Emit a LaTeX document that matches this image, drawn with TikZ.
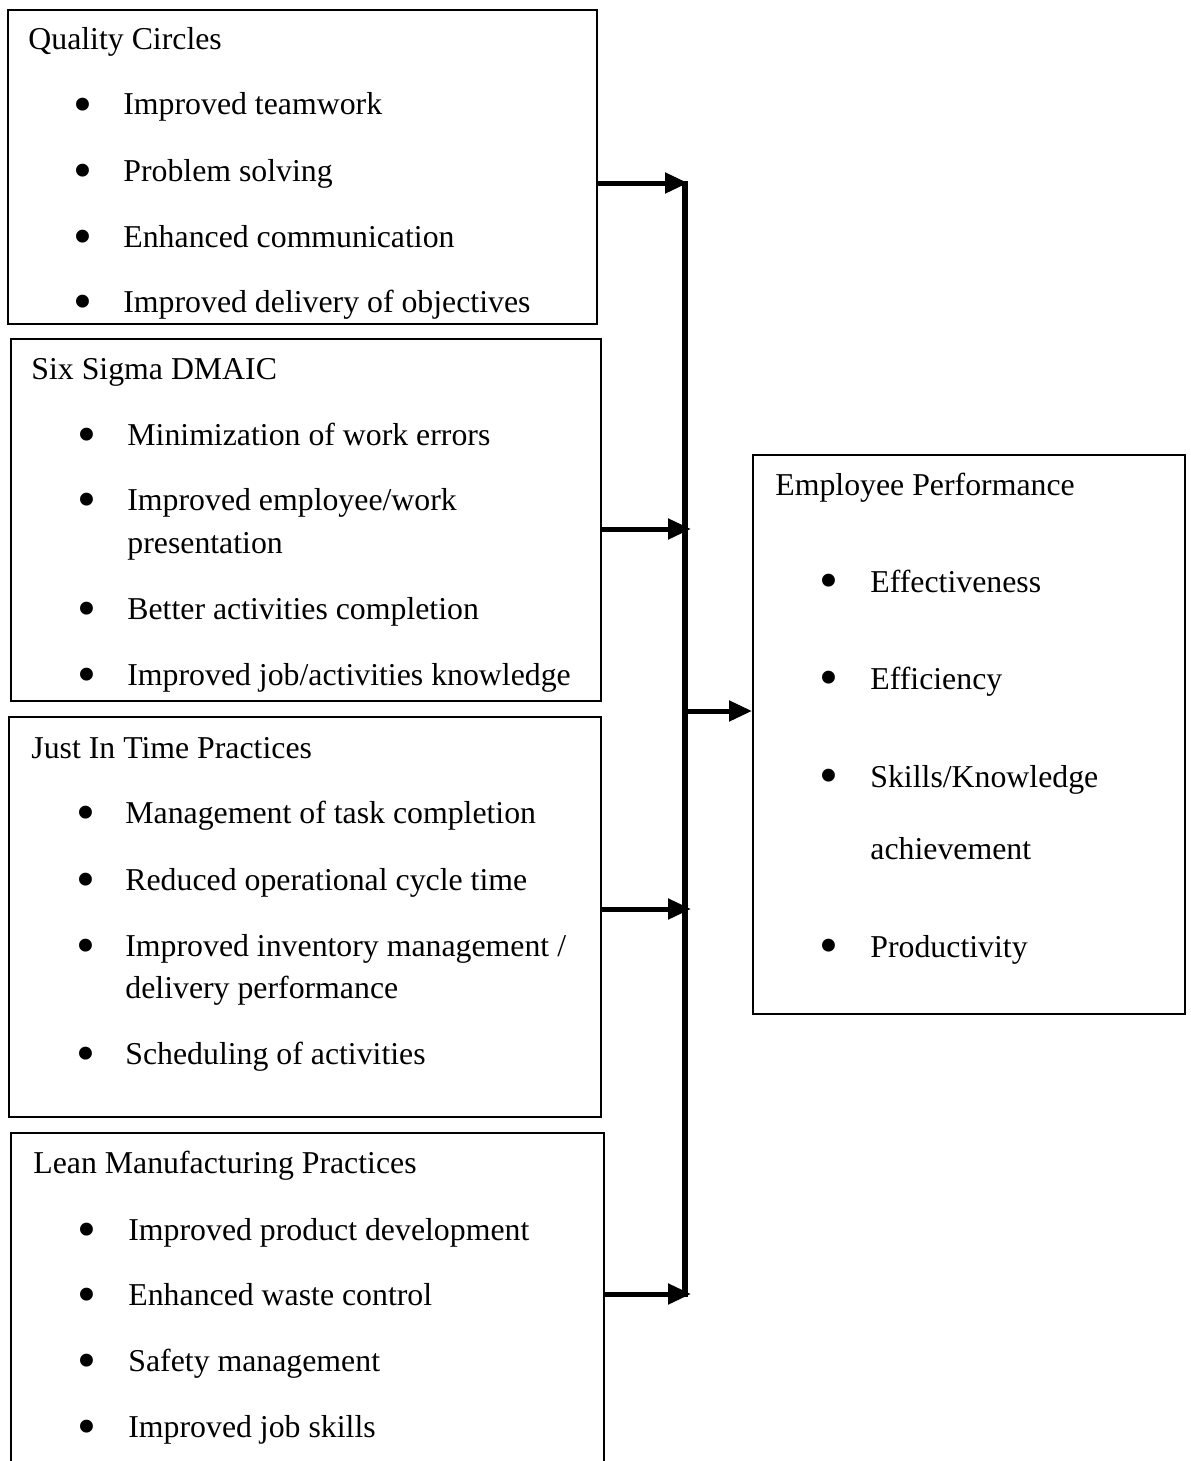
\documentclass[tikz,border=0pt]{standalone}
\usepackage{fontspec}
\setmainfont{Liberation Serif}
\usetikzlibrary{arrows.meta,fit}

\tikzset{
  box/.style={draw,line width=1pt,inner sep=0pt},
  head/.style={anchor=base west,inner sep=0pt},
  item/.style={anchor=base west,inner sep=0pt},
  dot/.style={anchor=base,inner sep=0pt,font=\fontsize{27}{27}\selectfont},
  arr/.style={line width=2.5pt,-{Triangle[length=11.5pt,width=10pt]}}
}

\begin{document}
\begin{tikzpicture}[x=0.5pt,y=-0.5pt,font=\fontsize{15.9}{19}\selectfont]
	\useasboundingbox (0,0) rectangle (1190,1461);
	\clip (0,0) rectangle (1190,1461);

	%boxes
	\node[box,fit={(8,10) (597,324)}] (qc) {}; %quality circles
	\node[box,fit={(11,339) (601,701)}] (ss) {}; %six sigma
	\node[box,fit={(9,717) (601,1117)}] (jit) {}; %just in time
	\node[box,fit={(11,1133) (604,1480)}] (lm) {}; %lean manufacturing
	\node[box,fit={(753,455) (1185,1014)}] (ep) {}; %employee performance

	%headings
	\node[head] (qct) at (28,50) {Quality Circles};
	\node[head] (sst) at (31,379) {Six Sigma DMAIC};
	\node[head] (jitt) at (31,758) {Just In Time Practices};
	\node[head] (lmt) at (33,1173) {Lean Manufacturing Practices};
	\node[head] (ept) at (775,495) {Employee Performance};

	%items
	\foreach \y/\t [count=\i] in {115/{Improved teamwork},181/{Problem solving},247/{Enhanced communication},312/{Improved delivery of objectives}}
	  {\node[dot] (qcb\i) at (82.5,\y+7.5) {\textbullet}; \node[item] (qc\i) at (123,\y) {\t};}
	\foreach \y/\t [count=\i] in {445/{Minimization of work errors},510/{Improved employee/work},619/{Better activities completion},685/{Improved job/activities knowledge}}
	  {\node[dot] (ssb\i) at (86.5,\y+7.5) {\textbullet}; \node[item] (ss\i) at (127,\y) {\t};}
	\node[item] (ss2b) at (127,553) {presentation}; %second line
	\foreach \y/\t [count=\i] in {823/{Management of task completion},890/{Reduced operational cycle time},956/{Improved inventory management /},1064/{Scheduling of activities}}
	  {\node[dot] (jitb\i) at (85.5,\y+7.5) {\textbullet}; \node[item] (jit\i) at (125,\y) {\t};}
	\node[item] (jit3b) at (125,998) {delivery performance}; %second line
	\foreach \y/\t [count=\i] in {1240/{Improved product development},1305/{Enhanced waste control},1371/{Safety management},1437/{Improved job skills}}
	  {\node[dot] (lmb\i) at (86.5,\y+7.5) {\textbullet}; \node[item] (lm\i) at (128,\y) {\t};}
	\foreach \y/\t [count=\i] in {592/{Effectiveness},689/{Efficiency},787/{Skills/Knowledge},957/{Productivity}}
	  {\node[dot] (epb\i) at (829,\y+6.5) {\textbullet}; \node[item] (ep\i) at (870,\y) {\t};}
	\node[item] (ep3b) at (870,859) {achievement}; %second line

	%bar
	\coordinate (bt) at (685,181);
	\coordinate (bb) at (685,1297);
	\coordinate (j1) at (688,183);
	\coordinate (j2) at (691,529);
	\coordinate (j3) at (691,909);
	\coordinate (j4) at (691,1294);
	\coordinate (jo) at (685,711);
	\draw[line width=2.6pt] (bt) -- (bb);

	%arrows
	\draw[arr] (qc.east |- j1) -- (j1);
	\draw[arr] (ss.east |- j2) -- (j2);
	\draw[arr] (jit.east |- j3) -- (j3);
	\draw[arr] (lm.east |- j4) -- (j4);
	\draw[arr] (jo) -- (ep.west |- jo);
\end{tikzpicture}
\end{document}
